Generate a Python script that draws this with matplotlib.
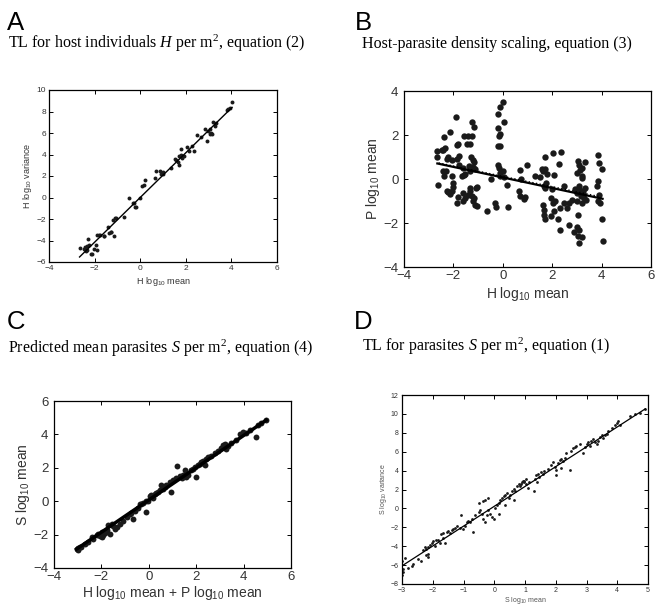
import matplotlib
matplotlib.use("Agg")
import matplotlib.pyplot as plt
import numpy as np

plt.rcParams['font.family'] = ['Liberation Sans', 'DejaVu Sans']
plt.rcParams['mathtext.fontset'] = 'custom'
plt.rcParams['mathtext.it'] = 'Liberation Serif:italic'
plt.rcParams['mathtext.rm'] = 'Liberation Serif'
plt.rcParams['mathtext.default'] = 'regular'

# ---- panel A: TL for hosts (H log10 mean, H log10 variance)
a_x = [-2.66, -2.47, -2.40, -2.35, -2.33, -2.38, -2.28, -2.25, -2.15, -2.12, -2.04, -1.88,
       -1.93, -1.90, -1.78, -1.82, -1.60, -1.57, -1.42, -1.36, -1.27, -1.30, -1.17, -1.20,
       -1.12, -1.08, -0.69, -0.50, -0.32, -0.28, -0.22, -0.18, 0.00, 0.10, 0.16, 0.22,
       0.64, 0.70, 0.85, 1.00, 0.92, 0.98, 1.33, 1.51, 1.58, 1.65, 1.72, 1.80, 1.68, 1.77,
       1.85, 1.94, 2.06, 2.13, 2.28, 2.35, 2.48, 2.67, 2.86, 2.96, 3.04, 2.93, 3.11, 3.15,
       3.06, 3.20, 3.33, 3.26, 3.80, 3.87, 3.93, 4.03]
a_y = [-4.71, -4.77, -4.60, -4.50, -4.90, -5.00, -3.90, -4.45, -5.25, -5.30, -4.80, -4.85,
       -4.40, -3.50, -3.45, -3.50, -3.55, -3.62, -2.70, -3.30, -3.20, -3.25, -3.60, -2.05,
       -1.90, -1.95, -1.78, -0.09, -0.55, -0.50, -0.92, -0.85, 0.00, 1.08, 1.14, 1.60,
       1.85, 2.46, 2.46, 2.40, 2.15, 2.20, 2.70, 3.60, 3.50, 3.30, 3.85, 4.55, 3.00, 4.00,
       3.70, 3.85, 4.68, 4.30, 4.83, 4.30, 5.78, 5.63, 6.33, 6.20, 6.37, 5.30, 5.98, 5.90,
       5.95, 7.00, 6.95, 6.63, 8.15, 8.25, 8.30, 8.90]
a_fit = [2.08, 0.0]

# ---- panel B: host-parasite density scaling
b_x = [-2.65, -2.65, -2.64, -2.47, -2.41, -2.34, -2.37, -2.43, -2.38, -2.31, -2.14, -1.90,
       -2.26, -2.20, -2.12, -2.07, -2.20, -2.25, -2.05, -1.85, -1.80, -1.76, -1.84, -1.87,
       -1.80, -2.00, -2.03, -2.07, -1.57, -1.40, -1.46, -1.33, -1.26, -1.26, -1.17, -1.30,
       -1.22, -1.17, -1.36, -1.22, -1.12, -1.33, -1.79, -1.60, -1.53, -1.66, -1.57, -1.60,
       -1.53, -1.60, -1.40, -1.33, -1.26, -1.17, -1.06, -1.22, -1.12, -1.03, -1.33, -1.09,
       -0.65, -0.49, -0.32, -0.29, -0.20, -0.13, -0.16, -0.18, -0.18, -0.11, 0.00, 0.04,
       -0.11, -0.20, -0.16, -0.10, 0.00, -0.11, 0.05, 0.18, 0.22, 0.70, 0.72, 0.66,
       0.70, 0.90, 0.98, 0.87, 1.30, 1.50, 1.64, 1.71, 1.78, 1.60, 1.71, 2.05,
       2.36, 2.29, 2.07, 1.67, 1.71, 1.75, 1.98, 1.94, 1.64, 1.66, 1.68, 1.71,
       1.95, 2.05, 2.11, 2.09, 2.25, 2.30, 2.48, 2.49, 2.69, 2.79, 2.59, 2.32,
       2.69, 2.90, 2.99, 3.10, 3.06, 3.20, 3.10, 2.99, 3.06, 3.10, 3.19, 3.19,
       3.22, 3.33, 3.13, 2.92, 3.02, 3.10, 3.15, 3.23, 3.33, 2.99, 3.19, 3.06,
       3.10, 3.18, 3.26, 3.29, 3.37, 3.84, 3.89, 4.03, 3.83, 3.87, 3.91, 3.94,
       3.87, 4.03, 4.04]
b_y = [1.29, 0.98, -0.29, 1.33, 1.30, 1.41, 1.89, 0.38, 0.12, 0.35, 2.12, 2.82,
       -0.55, -0.60, -0.68, -0.53, 1.00, 0.90, 0.85, 1.56, 1.58, 1.03, 0.90, -1.09,
       -0.84, -0.20, -0.35, 0.15, 1.94, 1.94, 1.59, 1.59, 1.94, 2.58, 2.35, 1.00,
       0.88, 0.77, 0.59, 0.55, 0.47, 0.38, 0.62, 0.50, 0.23, 0.12, 0.20, -0.64,
       -0.86, -1.02, -0.71, -0.56, -0.79, -0.86, -0.38, -1.02, -1.17, -1.24, -0.41, -0.41,
       -1.44, 0.00, -1.09, -1.29, 1.52, 1.52, 1.94, 2.33, 2.97, 3.27, 3.48, 2.58,
       2.06, 0.65, 0.50, 0.27, 0.35, 0.12, 0.08, -0.29, -1.29, 0.39, 0.00, -0.53,
       -0.76, -0.83, 0.65, -0.91, 0.12, 0.08, 0.35, 0.44, 0.23, 0.44, 1.00, 1.18,
       1.23, 0.68, 0.20, -0.33, -0.41, -0.20, -0.47, -0.87, -1.17, -1.39, -1.62, -1.82,
       -1.70, -1.09, -1.02, -1.47, -1.80, -2.30, -0.33, -1.10, -1.07, -0.95, -1.33, -1.33,
       -2.10, -2.40, -2.20, -2.30, -2.60, -2.65, -2.90, 0.27, 0.83, 0.65, 0.50, 0.12,
       0.05, 0.77, 0.41, -0.47, -0.62, -0.47, -0.77, -0.70, -0.41, -1.02, -1.09, -1.62,
       -0.32, -0.60, -0.56, -0.86, -0.94, 1.08, 0.71, 0.47, -0.33, -0.10, -0.71, -1.09,
       -1.02, -1.80, -2.83]
b_fit = [-0.24, 0.07]
b_fit_dotted = [-0.235, 0.12]

# ---- panel C: predicted mean parasites
c_x = [-3.05, -2.98, -2.91, -3.00, -2.84, -2.69, -2.55, -2.41, -2.34, -2.20, -2.13, -2.06,
       -1.99, -1.92, -1.85, -1.99, -1.78, -1.71, -1.64, -1.57, -1.50, -1.43, -1.36, -1.22,
       -1.08, -0.94, -0.80, -0.66, -0.73, -0.59, -0.45, -0.38, -0.31, -0.24, -0.13, -0.10,
       -0.03, 0.04, 0.11, 0.18, 0.25, 0.32, 0.39, 0.46, 0.53, 0.60, 0.67, 0.74,
       0.93, 0.88, 1.02, 1.16, 1.21, 1.31, 1.38, 1.45, 1.52, 1.59, 1.66, 1.80,
       1.87, 1.94, 2.00, 2.08, 2.15, 2.22, 2.29, 2.36, 2.43, 2.50, 2.64, 2.78,
       2.92, 3.06, 3.13, 3.20, 3.27, 3.34, 3.48, 3.69, 3.83, 3.97, 4.11, 4.25,
       4.53, 4.60, 4.74, 4.95]
c_y = [-2.87, -2.82, -2.76, -2.91, -2.72, -2.56, -2.43, -2.14, -2.27, -2.04, -1.94, -2.10,
       -2.17, -2.04, -1.90, -1.84, -1.75, -1.40, -1.98, -1.36, -1.46, -1.65, -1.55, -1.36,
       -1.17, -0.97, -0.78, -1.07, -0.68, -0.58, -0.39, -0.19, -0.16, -0.10, -0.62, 0.00,
       0.04, 0.29, 0.39, 0.19, 0.43, 0.49, 0.58, 0.68, 0.97, 0.74, 0.87, 1.00,
       0.58, 1.13, 1.26, 1.40, 2.08, 1.51, 1.40, 1.59, 1.84, 1.46, 1.59, 1.84,
       1.94, 2.04, 1.46, 2.14, 2.23, 2.33, 2.43, 2.17, 2.52, 2.62, 2.72, 2.91,
       3.01, 3.20, 3.34, 3.40, 3.11, 3.30, 3.50, 3.69, 4.04, 4.12, 4.08, 4.27,
       3.84, 4.56, 4.66, 4.85]
c_fit = [0.965, 0.073]

# ---- panel D: TL for parasites
d_x = [-3.00, -2.98, -2.99, -2.97, -2.90, -2.81, -2.68, -2.64, -2.48, -2.37, -2.32, -2.26,
       -2.21, -2.15, -2.17, -2.10, -2.04, -2.21, -2.15, -1.99, -1.93, -1.88, -1.83, -1.77,
       -1.72, -1.66, -1.55, -1.50, -1.44, -1.39, -1.33, -1.66, -1.61, -1.28, -1.22, -1.11,
       -1.08, -1.01, -0.95, -0.90, -0.84, -0.79, -0.73, -0.68, -0.62, -0.51, -0.46, -0.40,
       -0.35, -0.30, -0.24, -0.51, -0.35, -0.30, -0.19, -0.13, -0.08, -0.02, 0.03, 0.09,
       0.14, 0.20, 0.25, 0.31, 0.36, 0.42, 0.47, 0.52, 0.58, 0.63, 0.69, 0.74,
       0.80, 0.85, 0.91, 0.96, 1.02, 0.14, 0.36, 0.63, -0.19, 0.87, 0.92, 0.98,
       1.03, 1.09, 1.14, 1.28, 1.31, 1.36, 1.42, 1.47, 1.39, 1.52, 1.58, 1.63,
       1.74, 1.85, 1.91, 1.96, 2.02, 2.07, 2.13, 2.18, 2.24, 2.29, 2.02, 2.18,
       2.45, 2.34, 2.51, 2.56, 2.62, 2.67, 2.78, 2.89, 2.95, 3.00, 3.05, 3.11,
       3.16, 3.22, 3.27, 3.33, 3.38, 3.44, 3.49, 3.55, 3.60, 3.66, 3.71, 3.82,
       3.93, 3.98, 4.04, 4.09, 4.42, 4.58, 4.75, 4.91]
d_y = [-5.52, -6.45, -7.00, -6.70, -5.27, -6.26, -6.08, -5.89, -5.34, -5.52, -4.42, -4.13,
       -4.31, -4.05, -4.79, -3.87, -3.68, -4.97, -5.16, -3.50, -3.98, -3.39, -3.31, -3.68,
       -2.76, -2.58, -2.50, -2.39, -2.58, -2.28, -2.21, -3.13, -3.68, -2.03, -1.84, -2.03,
       -0.74, -2.21, -1.84, -1.47, -1.29, -1.40, -1.10, -2.47, -0.74, -0.37, -0.18, -0.55,
       -1.10, -1.47, -0.74, 0.55, 0.74, 0.92, -0.18, -0.55, -0.92, -1.10, 0.00, 0.37,
       0.55, 0.92, 1.10, 1.29, 1.47, 1.66, 1.10, 1.47, 1.84, 2.03, 1.84, 2.39,
       2.58, 2.39, 2.76, 2.95, 3.13, -0.55, 0.37, 0.92, 1.10, 2.58, 2.95, 2.76,
       2.58, 2.21, 2.76, 1.84, 3.13, 3.50, 3.68, 3.31, 2.76, 3.87, 3.68, 3.98,
       4.13, 4.60, 4.86, 4.42, 4.05, 4.79, 5.08, 5.23, 4.97, 5.34, 3.50, 4.24,
       4.05, 5.89, 6.08, 6.34, 6.45, 6.63, 6.81, 5.89, 6.45, 6.81, 7.00, 6.63,
       7.18, 7.37, 7.07, 6.81, 7.18, 7.55, 7.73, 7.44, 7.73, 7.92, 8.18, 8.47,
       8.84, 9.02, 9.21, 8.84, 9.76, 9.94, 10.13, 10.50]
d_fit = [2.1, 0.22]

W, H = 658, 607
fig = plt.figure(figsize=(W / 100, H / 100), dpi=100)


def box(x0, y0, x1, y1):
    # pixel box (top-left origin) -> figure fraction rect
    return [x0 / W, 1 - y1 / H, (x1 - x0) / W, (y1 - y0) / H]


def style_axes(ax, tick_size, pad=2):
    for s in ax.spines.values():
        s.set_linewidth(0.9)
    ax.tick_params(direction='in', top=True, right=True, length=3, width=0.7,
                   labelsize=tick_size, labelcolor='#333333', pad=pad)


def fit_line(ax, xs, fit, **kw):
    xx = np.array([min(xs), max(xs)])
    ax.plot(xx, fit[0] * xx + fit[1], color='black', **kw)


# A
axA = fig.add_axes(box(49, 90, 277, 262))
axA.scatter(a_x, a_y, s=8, color='#1a1a1a', linewidths=0)
fit_line(axA, a_x, a_fit, lw=1.0)
axA.set_xlim(-4, 6)
axA.set_ylim(-6, 10)
axA.set_xticks(np.arange(-4, 7, 2))
axA.set_yticks(np.arange(-6, 11, 2))
style_axes(axA, 6)
axA.set_xlabel('H log$_{10}$ mean', fontsize=6.5, color='#333333', labelpad=2)
axA.set_ylabel('H log$_{10}$ variance', fontsize=6.5, color='#333333', labelpad=2)

# B
axB = fig.add_axes(box(404, 91, 651, 267))
axB.scatter(b_x, b_y, s=21, color='#1a1a1a', linewidths=0)
fit_line(axB, b_x, b_fit, lw=1.6)
xx = np.array([-2.6, 3.9])
axB.plot(xx, b_fit_dotted[0] * xx + b_fit_dotted[1], color='black', lw=1.0, ls=':')
axB.set_xlim(-4, 6)
axB.set_ylim(-4, 4)
axB.set_xticks(np.arange(-4, 7, 2))
axB.set_yticks(np.arange(-4, 5, 2))
style_axes(axB, 9.5)
axB.tick_params(axis='y', pad=4)
axB.set_xlabel('H log$_{10}$ mean', fontsize=10, color='#333333', labelpad=2)
axB.set_ylabel('P log$_{10}$ mean', fontsize=10, color='#333333', labelpad=1)

# C
axC = fig.add_axes(box(54, 401, 291, 568))
axC.scatter(c_x, c_y, s=18, color='#1a1a1a', linewidths=0)
fit_line(axC, c_x, c_fit, lw=2.5)
axC.set_xlim(-4, 6)
axC.set_ylim(-4, 6)
axC.set_xticks(np.arange(-4, 7, 2))
axC.set_yticks(np.arange(-4, 7, 2))
style_axes(axC, 9.5)
axC.tick_params(axis='y', pad=4)
axC.set_xlabel('H log$_{10}$ mean + P log$_{10}$ mean', fontsize=10, color='#333333', labelpad=1)
axC.set_ylabel('S log$_{10}$ mean', fontsize=10, color='#333333', labelpad=1)

# D
axD = fig.add_axes(box(402, 395, 648, 584))
axD.scatter(d_x, d_y, s=4, color='#1a1a1a', linewidths=0)
fit_line(axD, d_x, d_fit, lw=0.9)
axD.set_xlim(-3, 5)
axD.set_ylim(-8, 12)
axD.set_xticks(np.arange(-3, 6, 1))
axD.set_yticks(np.arange(-8, 13, 2))
style_axes(axD, 5, pad=2.5)
axD.set_xlabel('S log$_{10}$ mean', fontsize=5, color='#555555', labelpad=0.5)
axD.set_ylabel('S log$_{10}$ variance', fontsize=5, color='#555555', labelpad=1)

# panel letters and serif captions
letters = ['A', 'B', 'C', 'D']
captions = [r'TL for host individuals $\mathit{H}$ per m$^2$, equation (2)',
            'Host-parasite density scaling, equation (3)',
            r'Predicted mean parasites $\mathit{S}$ per m$^2$, equation (4)',
            r'TL for parasites $\mathit{S}$ per m$^2$, equation (1)']
letter_pos = [(7, 30), (355, 30), (7, 329), (354, 329)]
caption_pos = [(8, 48), (362, 48), (8, 353), (362, 351)]
for L, (lx, ly), cap, (cx, cy) in zip(letters, letter_pos, captions, caption_pos):
    fig.text(lx / W, 1 - ly / H, L, fontsize=18.5, va='baseline', ha='left')
    fig.text(cx / W, 1 - cy / H, cap, fontsize=11.5, family='Liberation Serif',
             va='baseline', ha='left')

fig.savefig('out.png', dpi=100)
